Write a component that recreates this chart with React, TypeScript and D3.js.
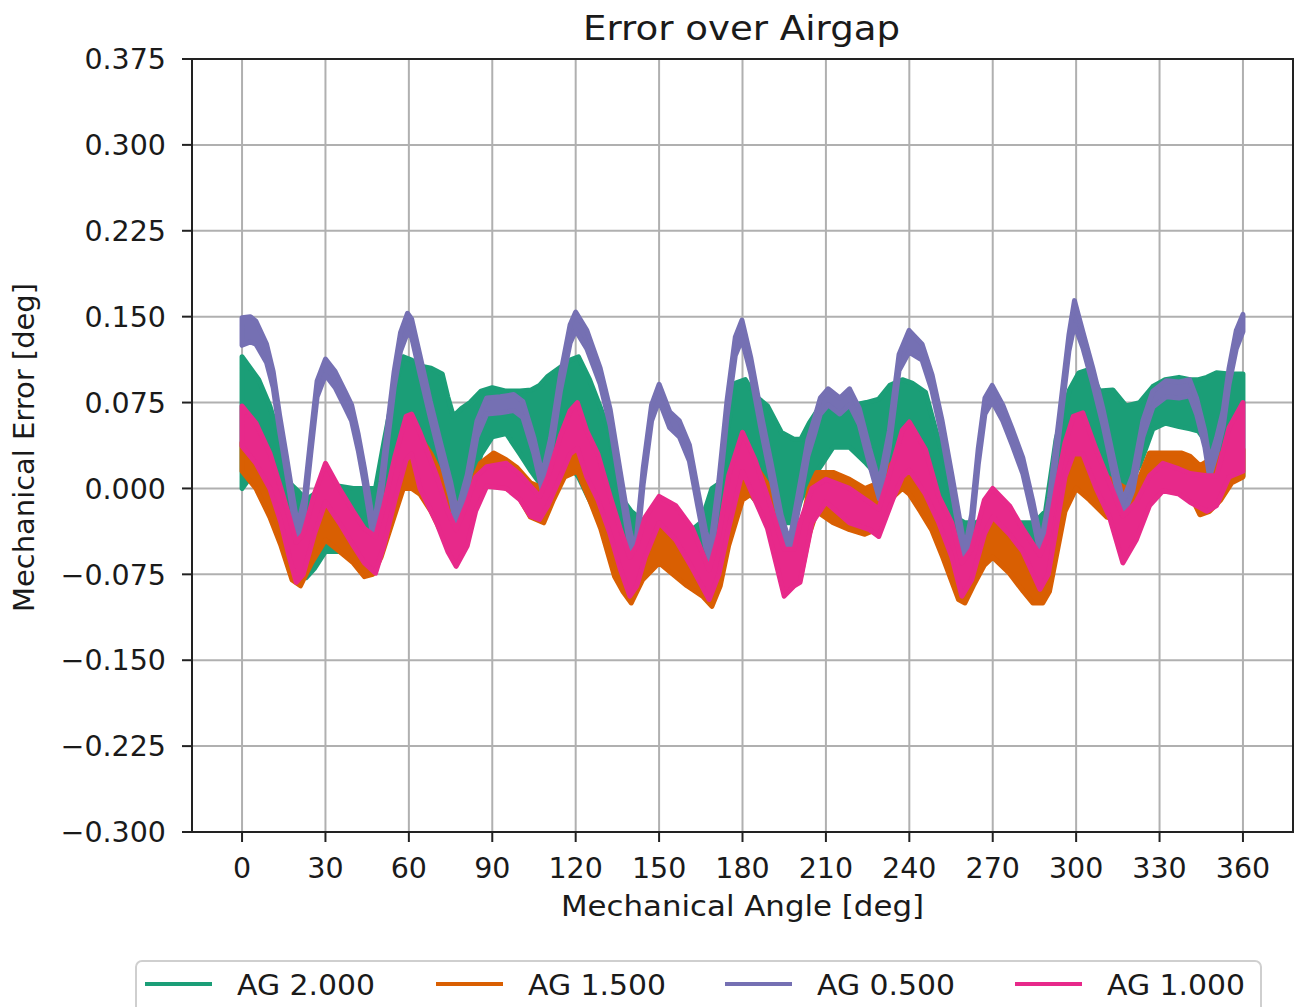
import React from "react";
import * as d3 from "d3";

// ---------- data ----------
const xTicks = [0, 30, 60, 90, 120, 150, 180, 210, 240, 270, 300, 330, 360];
const yTicks = [-0.3, -0.225, -0.15, -0.075, 0, 0.075, 0.15, 0.225, 0.3, 0.375];
const seriesNames = ["AG 2.000", "AG 1.500", "AG 0.500", "AG 1.000"];
const seriesColors = ["#1b9e77", "#d95f02", "#7570b3", "#e7298a"];

// AG 2.000 (green) envelope
const ag2Angle = [0, 3, 6, 10, 14, 17, 20, 23, 26, 30, 35, 40, 45, 48, 51, 55, 58, 61, 64, 68, 72, 74, 76, 79, 82, 86, 90, 95, 100, 104, 107, 110, 114, 118, 121, 125, 129, 132, 135, 137, 140, 145, 150, 155, 160, 165, 169, 172, 175, 177.5, 181, 184.5, 189, 194, 198.5, 201, 204, 208, 212.6, 218.5, 224.5, 229, 233, 237.5, 241, 245.8, 249.4, 253, 256.5, 260, 264, 268, 272, 276, 281, 285, 289, 292.8, 297.6, 301, 304.8, 308.4, 313.2, 318, 322.8, 327.6, 332, 337, 341, 344, 347, 350.5, 355, 360];
const ag2Lo = [0.0, 0.01, 0.0, -0.02, -0.04, -0.06, -0.075, -0.078, -0.07, -0.055, -0.055, -0.06, -0.068, -0.065, -0.05, -0.02, 0.01, 0.02, 0.01, 0.0, -0.02, -0.03, -0.035, -0.03, 0.0, 0.03, 0.045, 0.048, 0.03, 0.015, 0.005, 0.01, 0.02, 0.02, 0.01, -0.01, -0.03, -0.047, -0.06, -0.065, -0.075, -0.068, -0.065, -0.07, -0.08, -0.09, -0.09, -0.06, -0.03, -0.01, 0.0, -0.01, -0.02, -0.03, -0.03, -0.01, 0.005, 0.019, 0.036, 0.036, 0.022, 0.01, 0.015, 0.02, 0.02, 0.005, -0.02, -0.04, -0.06, -0.078, -0.075, -0.06, -0.06, -0.065, -0.07, -0.07, -0.06, -0.03, 0.0, 0.01, 0.015, 0.005, 0.0, 0.0, 0.02, 0.052, 0.057, 0.054, 0.052, 0.05, 0.04, 0.03, 0.02, 0.011];
const ag2Hi = [0.115, 0.105, 0.095, 0.072, 0.04, 0.005, -0.002, -0.01, -0.005, 0.0, 0.002, 0.0, 0.0, 0.0, 0.04, 0.09, 0.115, 0.112, 0.107, 0.105, 0.1, 0.08, 0.063, 0.07, 0.075, 0.085, 0.088, 0.085, 0.085, 0.086, 0.09, 0.098, 0.105, 0.112, 0.115, 0.095, 0.07, 0.05, 0.005, -0.01, -0.02, -0.03, -0.03, -0.035, -0.04, -0.03, 0.0, 0.005, 0.057, 0.092, 0.095, 0.081, 0.072, 0.049, 0.043, 0.043, 0.057, 0.072, 0.072, 0.072, 0.075, 0.078, 0.09, 0.095, 0.092, 0.084, 0.052, 0.02, -0.025, -0.03, -0.03, -0.025, -0.025, -0.03, -0.03, -0.03, -0.02, 0.043, 0.086, 0.101, 0.104, 0.085, 0.086, 0.072, 0.075, 0.089, 0.095, 0.097, 0.095, 0.095, 0.097, 0.101, 0.1, 0.1];

// AG 1.500 (orange) envelope
const ag15Angle = [0, 5, 10, 14, 18, 21, 25, 30, 35, 40, 44, 47, 50, 54, 58, 61, 64, 68, 72, 76, 80, 85.7, 90.5, 95, 99, 103.7, 108.5, 112, 116, 120.6, 125, 129, 134, 137, 140, 144, 150, 155, 160, 165.6, 169, 172, 175, 180, 183, 186, 190, 194, 197, 200.7, 204, 206.7, 212.6, 218.5, 224, 229, 233, 237.5, 240, 244, 248, 252, 257.7, 260, 263, 267, 270, 276, 281, 284.4, 288, 290.4, 292.8, 296, 300, 304.8, 311, 318, 321.6, 326.4, 332.4, 338, 341, 344.5, 348, 352, 356, 360];
const ag15Lo = [0.015, 0.0, -0.025, -0.05, -0.08, -0.085, -0.065, -0.045, -0.055, -0.065, -0.077, -0.075, -0.06, -0.03, 0.0, 0.0, -0.005, -0.02, -0.04, -0.058, -0.05, 0.0, 0.005, 0.0, -0.005, -0.025, -0.03, -0.01, 0.01, 0.015, -0.01, -0.035, -0.077, -0.09, -0.1, -0.08, -0.065, -0.075, -0.085, -0.094, -0.103, -0.085, -0.05, -0.01, -0.005, -0.015, -0.03, -0.07, -0.088, -0.08, -0.04, -0.02, -0.03, -0.036, -0.04, -0.035, -0.01, 0.0, -0.005, -0.02, -0.036, -0.06, -0.097, -0.1, -0.085, -0.067, -0.06, -0.074, -0.09, -0.1, -0.1, -0.09, -0.06, -0.02, 0.0, -0.01, -0.025, -0.03, -0.02, 0.0, 0.005, 0.005, -0.005, -0.023, -0.02, -0.01, 0.005, 0.01];
const ag15Hi = [0.04, 0.025, 0.005, -0.015, -0.045, -0.055, -0.03, -0.01, -0.02, -0.03, -0.045, -0.045, -0.025, 0.0, 0.028, 0.035, 0.045, 0.03, 0.01, -0.015, -0.01, 0.022, 0.031, 0.025, 0.018, 0.005, 0.0, 0.02, 0.04, 0.042, 0.025, 0.0, -0.04, -0.055, -0.065, -0.045, -0.03, -0.04, -0.05, -0.06, -0.07, -0.05, -0.02, 0.017, 0.03, 0.015, 0.0, -0.035, -0.055, -0.04, 0.0, 0.014, 0.014, 0.008, 0.0, 0.005, 0.02, 0.03, 0.017, 0.005, -0.01, -0.03, -0.06, -0.065, -0.05, -0.025, -0.023, -0.035, -0.05, -0.06, -0.06, -0.05, -0.02, 0.01, 0.034, 0.022, 0.01, 0.0, 0.002, 0.031, 0.031, 0.031, 0.028, 0.02, 0.025, 0.03, 0.034, 0.034];

// AG 0.500 (purple) envelope
const ag05Angle = [0, 3, 5, 8.8, 11.2, 13.5, 15.9, 18.2, 20, 22.4, 24.7, 27, 30, 33.5, 37, 39.4, 41.8, 44, 46.5, 47.6, 50, 52.4, 54.7, 57, 59.5, 61, 64, 67.7, 71.3, 75, 77.3, 81, 84.5, 88, 92.9, 97.7, 101, 105, 108, 111, 114.5, 118, 120, 124, 128.8, 132.4, 136, 139.6, 141.4, 144.3, 147.3, 150, 153.8, 157.3, 160.9, 163.8, 166.8, 168.5, 171.5, 174.4, 177.4, 179.8, 183, 186.8, 190.4, 193.9, 196.9, 199.8, 203.5, 206, 208, 210.8, 215, 218.5, 222, 225.7, 229.2, 232.8, 236.3, 239.9, 244.6, 248.2, 251.8, 255.3, 258.9, 260, 262.4, 264.8, 267.2, 269.8, 273.6, 277, 280.8, 284.4, 287.4, 290.4, 294, 297.4, 299.4, 302.4, 306, 309.6, 313.2, 316.8, 320.4, 324, 327.6, 332.4, 337, 340.8, 343.3, 346.3, 348, 350.5, 352.9, 355, 357.6, 360];
const ag05Lo = [0.125, 0.128, 0.126, 0.11, 0.088, 0.05, 0.015, -0.02, -0.05, -0.022, 0.03, 0.08, 0.099, 0.088, 0.071, 0.059, 0.033, 0.004, -0.034, -0.045, -0.008, 0.042, 0.088, 0.12, 0.136, 0.132, 0.1, 0.062, 0.027, -0.008, -0.036, -0.002, 0.045, 0.065, 0.066, 0.068, 0.062, 0.03, -0.002, 0.03, 0.085, 0.127, 0.138, 0.122, 0.091, 0.055, 0.001, -0.052, -0.069, 0.004, 0.059, 0.077, 0.053, 0.045, 0.024, -0.014, -0.052, -0.064, -0.007, 0.062, 0.116, 0.13, 0.1, 0.05, 0.007, -0.037, -0.061, -0.022, 0.028, 0.048, 0.065, 0.073, 0.065, 0.073, 0.056, 0.021, -0.009, 0.036, 0.103, 0.119, 0.112, 0.085, 0.045, -0.002, -0.052, -0.067, -0.037, 0.021, 0.065, 0.076, 0.059, 0.038, 0.013, -0.025, -0.061, -0.022, 0.05, 0.12, 0.143, 0.123, 0.091, 0.056, 0.015, -0.025, -0.002, 0.045, 0.071, 0.08, 0.079, 0.081, 0.065, 0.036, 0.01, 0.03, 0.054, 0.091, 0.122, 0.137];
const ag05Hi = [0.149, 0.15, 0.146, 0.126, 0.102, 0.064, 0.029, -0.006, -0.033, -0.008, 0.044, 0.094, 0.113, 0.102, 0.085, 0.073, 0.047, 0.018, -0.02, -0.03, 0.006, 0.056, 0.102, 0.136, 0.153, 0.148, 0.116, 0.076, 0.041, 0.006, -0.021, 0.012, 0.059, 0.079, 0.08, 0.082, 0.076, 0.044, 0.012, 0.044, 0.099, 0.143, 0.154, 0.138, 0.105, 0.069, 0.015, -0.038, -0.055, 0.018, 0.073, 0.091, 0.067, 0.059, 0.038, 0.0, -0.038, -0.05, 0.007, 0.076, 0.132, 0.147, 0.114, 0.064, 0.021, -0.023, -0.047, -0.008, 0.042, 0.062, 0.079, 0.087, 0.079, 0.087, 0.07, 0.035, 0.005, 0.05, 0.117, 0.138, 0.126, 0.099, 0.059, 0.012, -0.038, -0.053, -0.023, 0.035, 0.079, 0.09, 0.073, 0.052, 0.027, -0.011, -0.047, -0.008, 0.064, 0.134, 0.164, 0.137, 0.105, 0.07, 0.029, -0.011, 0.012, 0.059, 0.085, 0.094, 0.093, 0.095, 0.079, 0.05, 0.024, 0.044, 0.068, 0.105, 0.138, 0.152];

// AG 1.000 (pink) envelope
const ag1Angle = [0, 5, 10, 14, 17, 19.5, 22, 26, 30, 35, 40, 44, 48, 51, 55, 59, 61, 64, 70, 74, 77, 81, 84, 88, 95, 100, 103.7, 107, 110, 114.5, 118, 120.6, 124, 128, 132.4, 136, 139.5, 142, 145, 150, 156, 162, 168, 171.5, 175, 180, 184.5, 189, 195, 198.6, 200.7, 205, 210, 218.5, 225.7, 229, 234, 237.5, 240, 245.8, 250.6, 255.3, 258.9, 262.4, 267, 270, 276, 280.8, 287, 290, 292.8, 296, 299, 302.4, 307.2, 312, 316.8, 321.6, 326.4, 331.2, 337, 341, 347, 350.5, 355, 360];
const ag1Lo = [0.037, 0.022, 0.0, -0.03, -0.06, -0.082, -0.075, -0.04, -0.012, -0.03, -0.05, -0.065, -0.074, -0.05, -0.01, 0.025, 0.03, 0.0, -0.03, -0.055, -0.068, -0.05, -0.02, 0.002, 0.0, -0.01, -0.024, -0.027, -0.015, 0.01, 0.03, 0.035, 0.01, -0.01, -0.04, -0.07, -0.094, -0.085, -0.06, -0.03, -0.045, -0.07, -0.097, -0.075, -0.035, 0.015, -0.01, -0.035, -0.094, -0.085, -0.082, -0.03, -0.012, -0.03, -0.036, -0.042, -0.01, 0.01, 0.016, -0.005, -0.03, -0.06, -0.094, -0.08, -0.04, -0.025, -0.04, -0.055, -0.088, -0.075, -0.035, 0.01, 0.03, 0.03, 0.0, -0.025, -0.065, -0.045, -0.015, -0.002, -0.005, -0.012, -0.02, -0.015, 0.01, 0.015];
const ag1Hi = [0.072, 0.057, 0.031, 0.0, -0.025, -0.047, -0.04, -0.005, 0.022, 0.0, -0.02, -0.035, -0.042, -0.015, 0.028, 0.063, 0.065, 0.049, 0.011, -0.02, -0.036, -0.012, 0.01, 0.019, 0.022, 0.012, 0.002, -0.007, 0.01, 0.046, 0.068, 0.075, 0.05, 0.03, -0.007, -0.035, -0.06, -0.05, -0.025, -0.007, -0.015, -0.035, -0.071, -0.04, 0.011, 0.049, 0.025, -0.007, -0.053, -0.053, -0.03, 0.0, 0.008, 0.0, -0.012, -0.018, 0.022, 0.051, 0.058, 0.034, -0.007, -0.03, -0.065, -0.053, -0.01, 0.0, -0.015, -0.035, -0.058, -0.04, 0.0, 0.04, 0.063, 0.066, 0.034, 0.005, -0.024, -0.012, 0.011, 0.022, 0.017, 0.013, 0.011, 0.011, 0.053, 0.075];

const seriesAngles = [ag2Angle, ag15Angle, ag05Angle, ag1Angle];
const seriesLo = [ag2Lo, ag15Lo, ag05Lo, ag1Lo];
const seriesHi = [ag2Hi, ag15Hi, ag05Hi, ag1Hi];

// ---------- layout ----------
const W = 1295;
const H = 1007;
const M = { left: 192, right: 1293, top: 59, bottom: 832 };
const FONT = "'DejaVu Sans', sans-serif";

export default function App() {
  const x = d3.scaleLinear().domain([-18, 378]).range([M.left, M.right]);
  const y = d3.scaleLinear().domain([-0.3, 0.375]).range([M.bottom, M.top]);

  const fmtY = (v: number) => {
    const s = d3.format(".3f")(Math.abs(v));
    return v < -1e-9 ? "\u2212" + s : s;
  };

  const bands = seriesNames.map((name, i) => {
    const pts = seriesAngles[i].map((a, j) => ({ a, lo: seriesLo[i][j], hi: seriesHi[i][j] }));
    const area = d3
      .area<{ a: number; lo: number; hi: number }>()
      .x((d) => x(d.a))
      .y0((d) => y(d.lo))
      .y1((d) => y(d.hi))
      .curve(d3.curveLinear);
    return { name, color: seriesColors[i], d: area(pts) || "" };
  });

  const legendX = [145, 436, 725, 1015];

  return (
    <div style={{ position: "absolute", left: 0, top: 0 }}>
      <svg width={W} height={H} style={{ display: "block", background: "#fff" }} fontFamily={FONT}>
        <defs>
          <clipPath id="plotclip">
            <rect x={M.left} y={M.top} width={M.right - M.left} height={M.bottom - M.top} />
          </clipPath>
        </defs>
        {/* grid */}
        <g stroke="#b0b0b0" strokeWidth={2}>
          {xTicks.map((t) => (
            <line key={"gx" + t} x1={x(t)} x2={x(t)} y1={M.top} y2={M.bottom} />
          ))}
          {yTicks.map((t) => (
            <line key={"gy" + t} x1={M.left} x2={M.right} y1={y(t)} y2={y(t)} />
          ))}
        </g>
        {/* data bands */}
        <g clipPath="url(#plotclip)">
          {bands.map((b) => (
            <path key={b.name} d={b.d} fill={b.color} stroke={b.color} strokeWidth={5} strokeLinejoin="round" />
          ))}
        </g>
        {/* spines */}
        <rect x={M.left} y={M.top} width={M.right - M.left} height={M.bottom - M.top} fill="none" stroke="#222" strokeWidth={2} />
        {/* y ticks */}
        {yTicks.map((t) => (
          <g key={"yt" + t}>
            <line x1={M.left - 10} x2={M.left} y1={y(t)} y2={y(t)} stroke="#222" strokeWidth={2} />
            <text x={M.left - 26} y={y(t)} dy="0.36em" textAnchor="end" fontSize={28.5} fill="#1a1a1a">
              {fmtY(t)}
            </text>
          </g>
        ))}
        {/* x ticks */}
        {xTicks.map((t) => (
          <g key={"xt" + t}>
            <line x1={x(t)} x2={x(t)} y1={M.bottom} y2={M.bottom + 10} stroke="#222" strokeWidth={2} />
            <text x={x(t)} y={878} textAnchor="middle" fontSize={28.5} fill="#1a1a1a">
              {t}
            </text>
          </g>
        ))}
        {/* labels */}
        <text
          x={(M.left + M.right) / 2}
          y={916}
          textAnchor="middle"
          fontSize={28}
          fill="#1a1a1a"
          textLength={363}
          lengthAdjust="spacingAndGlyphs"
        >
          Mechanical Angle [deg]
        </text>
        <text
          transform={`translate(34, ${(M.top + M.bottom) / 2 + 2}) rotate(-90)`}
          textAnchor="middle"
          fontSize={28}
          fill="#1a1a1a"
          textLength={329}
          lengthAdjust="spacingAndGlyphs"
        >
          Mechanical Error [deg]
        </text>
        <text
          x={741.5}
          y={40}
          textAnchor="middle"
          fontSize={33}
          fill="#1a1a1a"
          textLength={317}
          lengthAdjust="spacingAndGlyphs"
        >
          Error over Airgap
        </text>
        {/* legend */}
        <rect x={136} y={961} width={1125} height={60} rx={6} fill="#fff" stroke="#cfcfcf" strokeWidth={2} />
        {bands.map((b, i) => (
          <g key={"lg" + b.name}>
            <line x1={legendX[i]} x2={legendX[i] + 67} y1={984} y2={984} stroke={b.color} strokeWidth={4} />
            <text
              x={legendX[i] + 92}
              y={995}
              fontSize={28}
              fill="#1a1a1a"
              textLength={138}
              lengthAdjust="spacingAndGlyphs"
            >
              {b.name}
            </text>
          </g>
        ))}
      </svg>
    </div>
  );
}
